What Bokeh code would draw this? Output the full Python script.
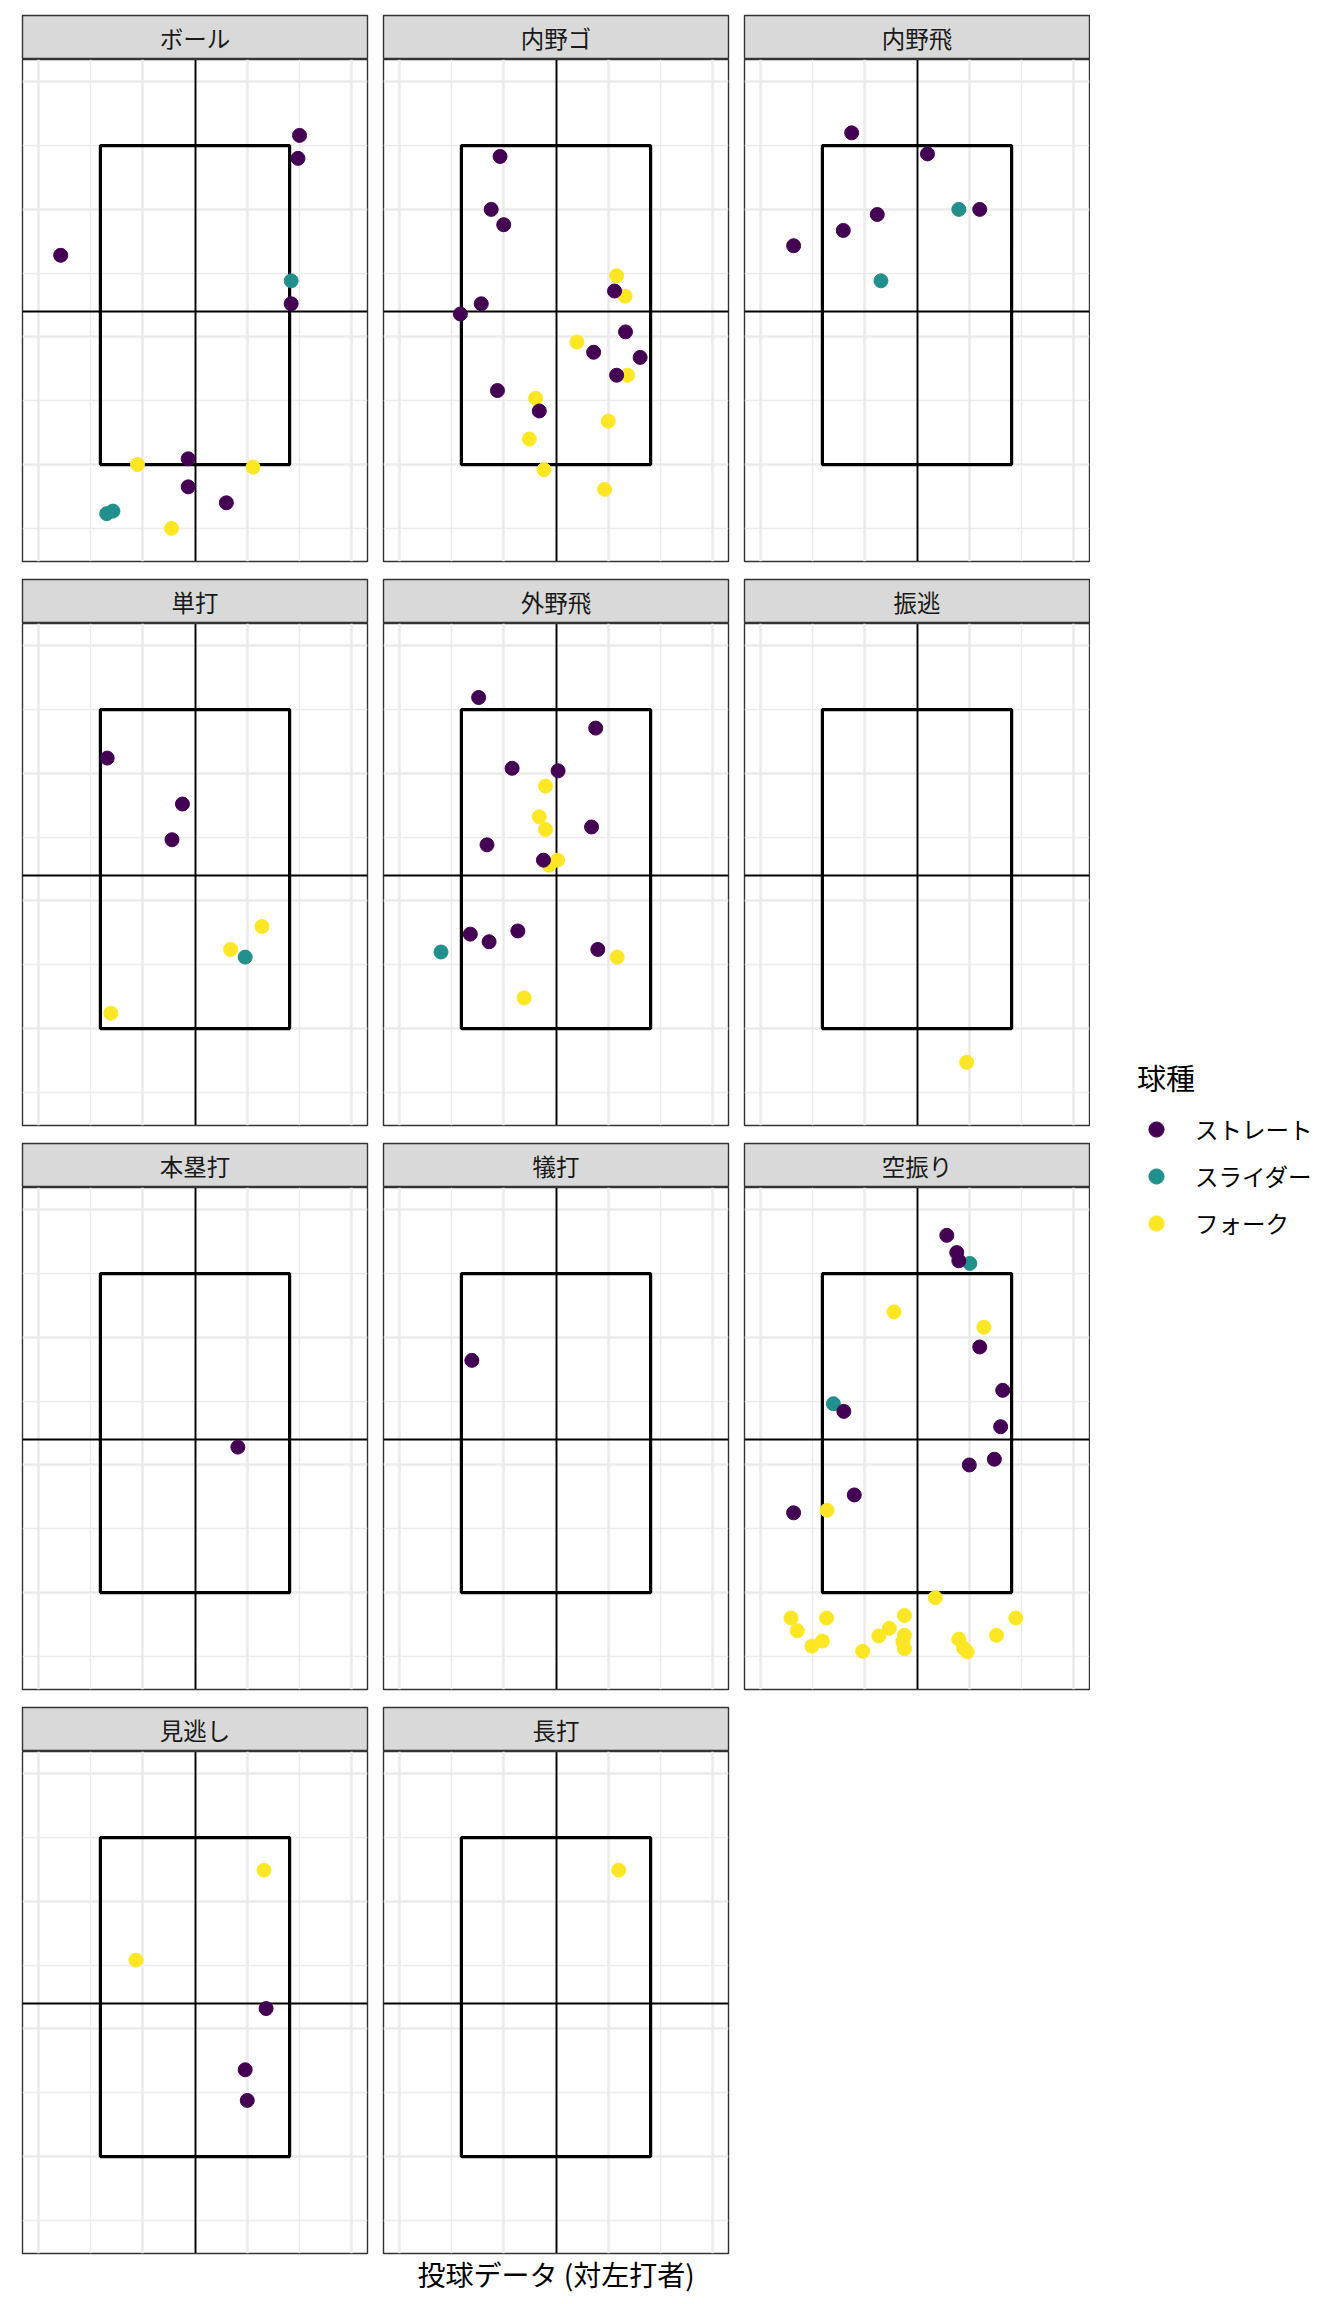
import numpy as np
from bokeh.plotting import figure
from bokeh.models import Range1d, FixedTicker, LinearAxis, Legend, LegendItem, GridBox
from bokeh.core.properties import value
from bokeh.embed import file_html
from bokeh.resources import INLINE

FONT = "Noto Sans CJK JP"

# ---------------- data ----------------
pitch_types = ["ストレート", "スライダー", "フォーク"]
pitch_colors = ["#440154", "#21908C", "#FDE725"]
S, L, F = pitch_types

facets = ["ボール", "内野ゴ", "内野飛", "単打", "外野飛", "振逃",
          "本塁打", "犠打", "空振り", "見逃し", "長打"]

ball_x = [5.00, 4.97, 0.43, 4.84, 4.84, 2.87, 1.90, 4.11, 2.87, 3.60, 1.43, 1.31, 2.55]
ball_y = [5.16, 4.80, 3.28, 2.88, 2.52, 0.09, 0.00, -0.04, -0.35, -0.60, -0.73, -0.77, -1.00]
ball_t = [S, S, S, L, S, S, F, F, S, S, L, L, F]

ground_x = [1.93, 1.76, 2.00, 4.16, 4.12, 4.32, 1.57, 1.17, 4.33, 3.40, 3.72,
            4.61, 4.37, 4.16, 1.88, 2.61, 2.68, 4.00, 2.49, 2.77, 3.93]
ground_y = [4.83, 4.00, 3.76, 2.96, 2.72, 2.64, 2.52, 2.36, 2.08, 1.92, 1.76,
            1.68, 1.40, 1.40, 1.16, 1.04, 0.84, 0.68, 0.40, -0.08, -0.39]
ground_t = [S, S, S, F, S, F, S, S, S, F, S, S, F, S, S, F, S, F, F, F, F]

infly_x = [1.75, 3.20, 2.24, 3.80, 4.20, 1.59, 0.64, 2.31]
infly_y = [5.20, 4.87, 3.92, 4.00, 4.00, 3.67, 3.43, 2.88]
infly_t = [S, S, S, L, S, S, S, L]

single_x = [1.32, 2.76, 2.56, 4.28, 3.68, 3.96, 1.39]
single_y = [4.24, 3.52, 2.96, 1.60, 1.24, 1.12, 0.24]
single_t = [S, S, S, F, F, L, F]

outfly_x = [1.52, 3.76, 2.16, 3.04, 2.80, 2.68, 2.80, 3.68, 1.68, 2.76, 3.03,
            2.87, 1.36, 1.72, 2.27, 0.80, 3.80, 4.17, 2.39]
outfly_y = [5.19, 4.71, 4.08, 4.04, 3.80, 3.32, 3.12, 3.16, 2.88, 2.64, 2.64,
            2.56, 1.48, 1.36, 1.53, 1.20, 1.24, 1.12, 0.48]
outfly_t = [S, S, S, S, F, F, F, S, S, S, F, F, S, S, S, L, S, F, F]

wildk_x = [3.95]
wildk_y = [-0.53]
wildk_t = [F]

hr_x = [3.82]
hr_y = [2.28]
hr_t = [S]

bunt_x = [1.39]
bunt_y = [3.64]
bunt_t = [S]

swing_x = [3.57, 3.76, 3.80, 4.01, 2.56, 4.28, 4.20, 4.64, 1.40, 1.60, 4.60,
           4.48, 4.00, 1.80, 0.64, 1.28,
           3.35, 0.59, 1.27, 0.71, 1.19, 0.99, 1.96, 2.27, 2.47, 2.76,
           2.76, 2.73, 2.76, 3.80, 3.89, 3.96, 4.52, 4.89]
swing_y = [5.60, 5.33, 5.20, 5.16, 4.40, 4.16, 3.85, 3.17, 2.96, 2.84, 2.60,
           2.09, 2.00, 1.53, 1.25, 1.29,
           -0.08, -0.40, -0.40, -0.60, -0.76, -0.84, -0.92, -0.68, -0.56, -0.36,
           -0.67, -0.77, -0.88, -0.73, -0.87, -0.93, -0.67, -0.40]
swing_t = [S, S, S, L, F, F, S, S, L, S, S, S, S, S, S, F,
           F, F, F, F, F, F, F, F, F, F, F, F, F, F, F, F, F, F]

look_x = [4.32, 1.87, 4.36, 3.96, 4.00]
look_y = [4.49, 3.08, 2.32, 1.36, 0.88]
look_t = [F, F, S, S, S]

long_x = [4.20]
long_y = [4.49]
long_t = [F]

facet_data = {
    "ボール": (ball_x, ball_y, ball_t),
    "内野ゴ": (ground_x, ground_y, ground_t),
    "内野飛": (infly_x, infly_y, infly_t),
    "単打": (single_x, single_y, single_t),
    "外野飛": (outfly_x, outfly_y, outfly_t),
    "振逃": (wildk_x, wildk_y, wildk_t),
    "本塁打": (hr_x, hr_y, hr_t),
    "犠打": (bunt_x, bunt_y, bunt_t),
    "空振り": (swing_x, swing_y, swing_t),
    "見逃し": (look_x, look_y, look_t),
    "長打": (long_x, long_y, long_t),
}

# strike zone and reference lines
zone_left, zone_right = [1.19], [4.81]
zone_bottom, zone_top = [0.0], [5.0]
center_x = [3.0]
mid_y = [2.4]

x_breaks, x_minor = [0, 2, 4, 6], [1, 3, 5]
y_breaks, y_minor = [0, 2, 4, 6], [-1, 1, 3, 5]
x_lim = (-0.3, 6.3)
y_lim = (-1.52, 6.35)

x_title = "投球データ (対左打者)"
legend_title = "球種"

# ---------------- layout ----------------
NCOL = 3
FW, FH, SH = 345, 502, 44
TOP0 = 15
LEFT = {0: 22, 1: 8, 2: 8}
RIGHT = {0: 8, 1: 8, 2: 1}


def make_strip(name, r, c):
    s = figure(frame_width=FW, frame_height=SH, x_range=Range1d(0, 1), y_range=Range1d(0, 1),
               x_axis_location=None, y_axis_location=None, toolbar_location=None,
               output_backend="svg", min_border=0,
               min_border_left=LEFT[c], min_border_right=RIGHT[c],
               min_border_top=(TOP0 if r == 0 else 2), min_border_bottom=0)
    s.xgrid.visible = False
    s.ygrid.visible = False
    s.background_fill_color = "#D9D9D9"
    s.border_fill_color = "white"
    s.outline_line_color = "#333333"
    s.outline_line_width = 1.4
    s.text(x=[0.5], y=[0.5], text=[name], text_align="center", text_baseline="middle",
           text_font=value(FONT), text_font_size="23.5px", text_color="#1A1A1A")
    return s


def make_panel(name, r, c, last_row):
    xs, ys, ts = facet_data[name]
    p = figure(frame_width=FW, frame_height=FH, x_range=Range1d(*x_lim), y_range=Range1d(*y_lim),
               x_axis_location=None, y_axis_location=None, toolbar_location=None,
               output_backend="svg", min_border=0,
               min_border_left=LEFT[c], min_border_right=RIGHT[c],
               min_border_top=0, min_border_bottom=(2 if last_row else 16))
    p.xgrid.ticker = FixedTicker(ticks=x_breaks, minor_ticks=x_minor)
    p.ygrid.ticker = FixedTicker(ticks=y_breaks, minor_ticks=y_minor)
    for g in (p.xgrid, p.ygrid):
        g.grid_line_color = "#EBEBEB"
        g.grid_line_width = 2.6
        g.minor_grid_line_color = "#EBEBEB"
        g.minor_grid_line_width = 1.4
    p.background_fill_color = "white"
    p.border_fill_color = "white"
    p.outline_line_color = "#333333"
    p.outline_line_width = 1.4

    p.quad(left=zone_left, right=zone_right, bottom=zone_bottom, top=zone_top,
           fill_color=None, line_color="black", line_width=3.2)
    p.vspan(x=center_x, line_color="black", line_width=1.9)
    p.hspan(y=mid_y, line_color="black", line_width=1.9)

    for tp in [F, L, S]:
        col = pitch_colors[pitch_types.index(tp)]
        sx = [x for x, t in zip(xs, ts) if t == tp]
        sy = [y for y, t in zip(ys, ts) if t == tp]
        if sx:
            p.scatter(x=sx, y=sy, size=14, color=col, line_width=1)
    return p


children = []
n_rows = (len(facets) + NCOL - 1) // NCOL
for i, name in enumerate(facets):
    r, c = divmod(i, NCOL)
    last_row = (r == n_rows - 1)
    strip = make_strip(name, r, c)
    panel = make_panel(name, r, c, last_row)
    if last_row and c == 1:
        ax = LinearAxis(ticker=FixedTicker(ticks=[]), axis_label=x_title,
                        axis_label_text_font=FONT, axis_label_text_font_size="28px",
                        axis_label_text_font_style="normal", axis_label_text_color="black",
                        axis_line_color=None, major_tick_line_color=None,
                        minor_tick_line_color=None, major_tick_in=0, major_tick_out=0,
                        minor_tick_in=0, minor_tick_out=0,
                        major_label_text_font_size="0px", major_label_standoff=0,
                        axis_label_standoff=0)
        panel.add_layout(ax, "below")
    children.append((strip, 2 * r, c))
    children.append((panel, 2 * r + 1, c))

# legend column (keys drawn by the legend itself; the renderers hold no visible point)
total_h = TOP0 + SH + (n_rows - 1) * (FH + 16 + SH + 2) + FH
lg = figure(width=230, height=total_h, x_range=Range1d(0, 1), y_range=Range1d(0, 1),
            x_axis_location=None, y_axis_location=None, toolbar_location=None,
            output_backend="svg", min_border=0)
lg.xgrid.visible = False
lg.ygrid.visible = False
lg.outline_line_color = None
items = []
for name, col in zip(pitch_types, pitch_colors):
    rr = lg.scatter(x=np.array([np.nan]), y=np.array([np.nan]), size=14, color=col)
    items.append(LegendItem(label=name, renderers=[rr]))
legend = Legend(items=items, title=legend_title, location=(47, 968),
                border_line_color=None, background_fill_alpha=0,
                padding=0, margin=0, spacing=9, glyph_width=38, glyph_height=38,
                label_standoff=20, label_text_font=FONT, label_text_font_size="23.5px",
                label_text_color="black", title_text_font=FONT, title_text_font_size="29px",
                title_text_font_style="normal", title_text_color="black", title_standoff=12)
lg.add_layout(legend)
children.append((lg, 0, 3, 2 * n_rows, 1))

root = GridBox(children=children)

open("out.html", "w").write(file_html(root, INLINE))
